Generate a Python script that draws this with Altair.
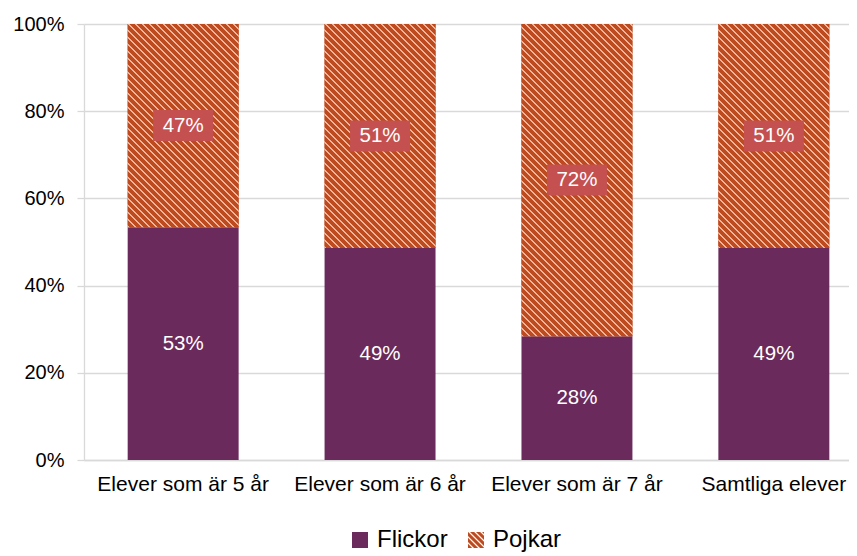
import altair as alt
import pandas as pd

# ---- data ----
categories = ["Elever som är 5 år", "Elever som är 6 år", "Elever som är 7 år", "Samtliga elever"]
series = ["Flickor", "Pojkar"]
flickor = [53.4, 48.6, 28.4, 48.6]
pojkar = [46.6, 51.4, 71.6, 51.4]

# ---- style ----
PURPLE = "#6A2A5B"
ORANGE = "#BE4A1F"
LIGHT = "#EDB49A"
BOX = "#C4504F"
FONT = "Liberation Sans"
PLOT_W, PLOT_H = 765, 436
BAR_W = 111


def hatch(h, w, pitch=7.0, frac=0.32):
    r = w / h
    s = (r + 1) / (r * r + 1)
    n = (h + w) / pitch
    stops = []
    k = 0
    while k / n < 1:
        a = k / n
        b = min((k + frac) / n, 1)
        c = min((k + 1) / n, 1)
        stops += [
            {"offset": a, "color": LIGHT},
            {"offset": b, "color": LIGHT},
            {"offset": b, "color": ORANGE},
            {"offset": c, "color": ORANGE},
        ]
        k += 1
    return {"gradient": "linear", "x1": 0, "y1": 1, "x2": s * r, "y2": 1 - s, "stops": stops}


def clip(poly, a, b, c):
    out = []
    n = len(poly)
    for i in range(n):
        p, q = poly[i], poly[(i + 1) % n]
        fp = a * p[0] + b * p[1] - c
        fq = a * q[0] + b * q[1] - c
        if fp <= 0:
            out.append(p)
        if (fp < 0 < fq) or (fq < 0 < fp):
            t = fp / (fp - fq)
            out.append((p[0] + t * (q[0] - p[0]), p[1] + t * (q[1] - p[1])))
    return out


def striped_square(pitch=0.75, width=0.52):
    sq = [(-1, -1), (1, -1), (1, 1), (-1, 1)]
    parts = []
    lo = -2.0
    while lo < 2.0:
        hi = lo + width
        poly = clip(sq, 1, -1, hi)
        poly = clip(poly, -1, 1, -lo)
        if len(poly) >= 3:
            parts.append("M" + "L".join(f"{x:.3f},{y:.3f}" for x, y in poly) + "Z")
        lo += pitch
    return "".join(parts)


SQUARE = "M-1,-1L1,-1L1,1L-1,1Z"
STRIPED = striped_square()

rows = []
for i, c in enumerate(categories):
    rows.append({"cat": c, "idx": i, "series": series[0], "order": 0, "value": flickor[i]})
    rows.append({"cat": c, "idx": i, "series": series[1], "order": 1, "value": pojkar[i]})
df = pd.DataFrame(rows)

base = alt.Chart(df).transform_stack(
    stack="value", groupby=["cat"], as_=["y0", "y1"], offset="normalize",
    sort=[alt.SortField("order", order="ascending")]
).transform_calculate(
    mid="(datum.y0 + datum.y1) / 2",
    label="format(datum.value, '.0f') + '%'"
)

xscale = alt.Scale(range=[0, 789], paddingInner=0.4365, paddingOuter=0.2218, round=False)
x_enc = alt.X("cat:N", sort=categories, scale=xscale,
              axis=alt.Axis(title=None, labelAngle=0, ticks=False, tickSize=0,
                            labelPadding=13, labelFontSize=21, labelFont=FONT,
                            labelColor="black", domainColor="#D9D9D9", domainWidth=1.3,
                            grid=False, labelLimit=300))
yscale = alt.Scale(domain=[0, 1])
yaxis = alt.Axis(title=None, values=[0, 0.2, 0.4, 0.6, 0.8, 1.0], format=".0%",
                 labelFontSize=20, labelFont=FONT, labelColor="black", labelPadding=13,
                 tickSize=7, tickColor="#D9D9D9", tickWidth=1.3,
                 domainColor="#D9D9D9", domainWidth=1.3,
                 grid=True, gridColor="#D9D9D9", gridWidth=1.3)

legend = alt.Legend(
    title=None, orient="none", legendX=264, legendY=504,
    direction="horizontal", symbolSize=256, symbolOpacity=1,
    symbolStrokeWidth=0, labelFontSize=24, labelFont=FONT,
    labelColor="black", labelOffset=5, columnPadding=16, padding=0,
)

bars = base.mark_bar().encode(
    x=x_enc,
    y=alt.Y("y0:Q", scale=yscale, axis=yaxis),
    y2="y1:Q",
    color=alt.Color("series:N", scale=alt.Scale(domain=series, range=[PURPLE, ORANGE]),
                    legend=legend),
)

legend_pts = base.mark_point(filled=True, opacity=0, strokeWidth=0).encode(
    x=x_enc,
    y=alt.Y("mid:Q", scale=yscale, axis=yaxis),
    color=alt.Color("series:N", scale=alt.Scale(domain=series, range=[PURPLE, ORANGE]),
                    legend=legend),
    shape=alt.Shape("series:N", scale=alt.Scale(domain=series, range=[SQUARE, STRIPED]),
                    legend=legend),
)

conds = [{"test": f"datum.idx === {i}", "value": hatch(pojkar[i] / 100 * PLOT_H, BAR_W)}
         for i in range(len(categories))]

hatched = base.transform_filter("datum.series === 'Pojkar'").mark_bar().encode(
    x=x_enc,
    y=alt.Y("y0:Q", scale=yscale, axis=yaxis),
    y2="y1:Q",
    fill={"condition": conds, "value": ORANGE},
)

f_labels = base.transform_filter("datum.series === 'Flickor'").mark_text(
    color="white", fontSize=20.5, font=FONT
).encode(
    x=x_enc, y=alt.Y("mid:Q", scale=yscale, axis=yaxis), text="label:N"
)

boxes = base.transform_filter("datum.series === 'Pojkar'").mark_point(
    shape="M-1,-0.517L1,-0.517L1,0.517L-1,0.517Z", filled=True, size=3600,
    color=BOX, opacity=1, strokeWidth=0
).encode(
    x=x_enc, y=alt.Y("mid:Q", scale=yscale, axis=yaxis)
)

p_labels = base.transform_filter("datum.series === 'Pojkar'").mark_text(
    color="white", fontSize=20.5, font=FONT
).encode(
    x=x_enc, y=alt.Y("mid:Q", scale=yscale, axis=yaxis), text="label:N"
)

chart = alt.layer(bars, legend_pts, hatched, f_labels, boxes, p_labels).properties(
    width=PLOT_W, height=PLOT_H,
    autosize=alt.AutoSizeParams(type="none"),
    padding={"left": 76, "top": 16, "right": 0, "bottom": 100},
    background="white",
).configure_view(stroke=None)

chart.save("out.html", embed_options={"renderer": "svg", "actions": False})
